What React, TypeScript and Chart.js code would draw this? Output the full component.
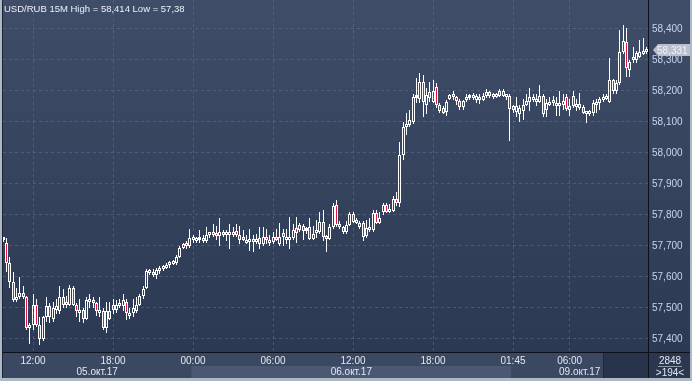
import React, { useEffect, useRef } from 'react';
import { Chart, registerables } from 'chart.js';

Chart.register(...registerables);

// ---- Data (15-minute candles, USD/RUB) ----
const opens = [
  57.718, 57.71, 57.645, 57.584, 57.526, 57.535, 57.548, 57.535, 57.435, 57.445,
  57.51, 57.445, 57.40, 57.47, 57.505, 57.465, 57.495, 57.49, 57.535, 57.51,
  57.51, 57.565, 57.51, 57.485, 57.495, 57.465, 57.52, 57.525, 57.515, 57.485,
  57.49, 57.435, 57.49, 57.495, 57.495, 57.512, 57.505, 57.52, 57.475, 57.485,
  57.49, 57.51, 57.54, 57.565, 57.613, 57.615, 57.605, 57.62, 57.626, 57.63,
  57.638, 57.643, 57.645, 57.665, 57.694, 57.71, 57.70, 57.718, 57.715, 57.718,
  57.726, 57.716, 57.735, 57.735, 57.742, 57.732, 57.745, 57.735, 57.735, 57.737,
  57.748, 57.735, 57.728, 57.71, 57.712, 57.712, 57.714, 57.726, 57.705, 57.728,
  57.71, 57.714, 57.73, 57.705, 57.742, 57.72, 57.72, 57.726, 57.758, 57.752,
  57.765, 57.748, 57.761, 57.723, 57.742, 57.745, 57.777, 57.732, 57.723, 57.761,
  57.832, 57.768, 57.761, 57.745, 57.768, 57.803, 57.774, 57.774, 57.774, 57.732,
  57.761, 57.752, 57.806, 57.774, 57.81, 57.832, 57.81, 57.813, 57.852, 57.839,
  57.994, 58.084, 58.09, 58.10, 58.176, 58.175, 58.229, 58.155, 58.197, 58.165,
  58.213, 58.155, 58.145, 58.132, 58.174, 58.19, 58.18, 58.168, 58.148, 58.17,
  58.176, 58.178, 58.172, 58.182, 58.172, 58.184, 58.196, 58.182, 58.182, 58.20,
  58.184, 58.18, 58.184, 58.15, 58.132, 58.125, 58.135, 58.155, 58.18, 58.17,
  58.165, 58.165, 58.185, 58.14, 58.155, 58.168, 58.15, 58.15, 58.155, 58.18,
  58.14, 58.185, 58.148, 58.158, 58.148, 58.125, 58.125, 58.13, 58.155, 58.16,
  58.17, 58.175, 58.165, 58.235, 58.20, 58.226, 58.326, 58.358, 58.268, 58.30,
  58.30, 58.31, 58.32, 58.326,
];
const highs = [
  57.728, 57.726, 57.665, 57.616, 57.565, 57.60, 57.57, 57.54, 57.45, 57.545,
  57.53, 57.47, 57.475, 57.535, 57.515, 57.52, 57.53, 57.57, 57.56, 57.54,
  57.575, 57.57, 57.515, 57.53, 57.50, 57.535, 57.545, 57.535, 57.52, 57.535,
  57.50, 57.52, 57.52, 57.53, 57.525, 57.53, 57.545, 57.53, 57.50, 57.53,
  57.535, 57.545, 57.57, 57.625, 57.625, 57.625, 57.63, 57.635, 57.64, 57.645,
  57.65, 57.655, 57.67, 57.70, 57.71, 57.715, 57.755, 57.735, 57.73, 57.75,
  57.735, 57.76, 57.742, 57.77, 57.765, 57.79, 57.75, 57.75, 57.77, 57.76,
  57.77, 57.765, 57.75, 57.735, 57.755, 57.735, 57.74, 57.76, 57.76, 57.755,
  57.735, 57.745, 57.755, 57.775, 57.755, 57.755, 57.795, 57.77, 57.795, 57.775,
  57.77, 57.76, 57.79, 57.765, 57.785, 57.81, 57.815, 57.735, 57.77, 57.84,
  57.848, 57.78, 57.765, 57.78, 57.81, 57.81, 57.79, 57.78, 57.78, 57.785,
  57.79, 57.815, 57.815, 57.81, 57.84, 57.84, 57.835, 57.86, 57.874, 58.035,
  58.10, 58.129, 58.14, 58.19, 58.242, 58.258, 58.25, 58.21, 58.23, 58.235,
  58.225, 58.16, 58.15, 58.17, 58.19, 58.20, 58.185, 58.175, 58.17, 58.19,
  58.19, 58.195, 58.19, 58.19, 58.195, 58.205, 58.20, 58.195, 58.195, 58.205,
  58.205, 58.19, 58.19, 58.155, 58.18, 58.155, 58.175, 58.19, 58.21, 58.19,
  58.19, 58.22, 58.19, 58.175, 58.18, 58.185, 58.18, 58.20, 58.19, 58.19,
  58.175, 58.20, 58.175, 58.195, 58.155, 58.135, 58.14, 58.17, 58.175, 58.18,
  58.19, 58.19, 58.306, 58.24, 58.235, 58.397, 58.413, 58.403, 58.30, 58.342,
  58.33, 58.365, 58.37, 58.342,
];
const lows = [
  57.712, 57.616, 57.565, 57.52, 57.52, 57.53, 57.53, 57.43, 57.385, 57.43,
  57.44, 57.38, 57.395, 57.455, 57.45, 57.455, 57.48, 57.48, 57.50, 57.50,
  57.505, 57.505, 57.47, 57.455, 57.45, 57.46, 57.50, 57.50, 57.475, 57.47,
  57.43, 57.42, 57.46, 57.48, 57.485, 57.50, 57.49, 57.46, 57.465, 57.47,
  57.485, 57.505, 57.53, 57.56, 57.605, 57.60, 57.595, 57.61, 57.62, 57.625,
  57.63, 57.64, 57.64, 57.66, 57.69, 57.69, 57.695, 57.71, 57.71, 57.71,
  57.71, 57.71, 57.725, 57.73, 57.72, 57.70, 57.73, 57.715, 57.69, 57.73,
  57.73, 57.705, 57.715, 57.705, 57.685, 57.68, 57.705, 57.69, 57.70, 57.705,
  57.70, 57.705, 57.715, 57.70, 57.70, 57.705, 57.69, 57.72, 57.71, 57.745,
  57.72, 57.74, 57.72, 57.72, 57.725, 57.74, 57.715, 57.68, 57.72, 57.755,
  57.76, 57.755, 57.74, 57.74, 57.765, 57.775, 57.77, 57.755, 57.715, 57.725,
  57.745, 57.745, 57.77, 57.77, 57.80, 57.805, 57.805, 57.81, 57.83, 57.826,
  57.977, 58.058, 58.085, 58.095, 58.16, 58.16, 58.116, 58.125, 58.165, 58.16,
  58.145, 58.13, 58.125, 58.12, 58.17, 58.17, 58.155, 58.14, 58.14, 58.165,
  58.17, 58.17, 58.162, 58.158, 58.168, 58.178, 58.178, 58.175, 58.178, 58.18,
  58.18, 58.17, 58.04, 58.13, 58.115, 58.10, 58.105, 58.15, 58.135, 58.165,
  58.15, 58.16, 58.115, 58.115, 58.15, 58.15, 58.12, 58.12, 58.14, 58.135,
  58.12, 58.145, 58.135, 58.14, 58.125, 58.097, 58.12, 58.12, 58.13, 58.14,
  58.165, 58.17, 58.16, 58.19, 58.19, 58.22, 58.32, 58.245, 58.245, 58.29,
  58.29, 58.305, 58.315, 58.32,
];
const closes = [
  57.722, 57.645, 57.584, 57.526, 57.535, 57.548, 57.535, 57.435, 57.445, 57.51,
  57.445, 57.40, 57.47, 57.505, 57.47, 57.50, 57.505, 57.535, 57.51, 57.515,
  57.565, 57.51, 57.49, 57.495, 57.465, 57.525, 57.525, 57.515, 57.49, 57.495,
  57.435, 57.49, 57.465, 57.51, 57.51, 57.505, 57.525, 57.485, 57.485, 57.50,
  57.51, 57.54, 57.56, 57.62, 57.62, 57.605, 57.622, 57.627, 57.633, 57.64,
  57.645, 57.65, 57.665, 57.694, 57.706, 57.70, 57.726, 57.726, 57.723, 57.723,
  57.716, 57.735, 57.742, 57.742, 57.732, 57.745, 57.737, 57.742, 57.742, 57.745,
  57.735, 57.72, 57.718, 57.715, 57.718, 57.718, 57.72, 57.705, 57.728, 57.718,
  57.716, 57.728, 57.72, 57.728, 57.728, 57.726, 57.726, 57.752, 57.742, 57.768,
  57.748, 57.752, 57.723, 57.739, 57.752, 57.777, 57.729, 57.723, 57.761, 57.829,
  57.768, 57.761, 57.745, 57.768, 57.803, 57.777, 57.78, 57.761, 57.729, 57.758,
  57.752, 57.806, 57.774, 57.79, 57.832, 57.81, 57.816, 57.852, 57.839, 57.994,
  58.084, 58.09, 58.106, 58.181, 58.181, 58.229, 58.165, 58.187, 58.177, 58.20,
  58.155, 58.135, 58.13, 58.165, 58.187, 58.18, 58.168, 58.148, 58.168, 58.178,
  58.182, 58.185, 58.184, 58.172, 58.185, 58.197, 58.184, 58.19, 58.188, 58.184,
  58.20, 58.186, 58.142, 58.139, 58.15, 58.145, 58.155, 58.168, 58.165, 58.18,
  58.175, 58.185, 58.125, 58.16, 58.165, 58.16, 58.16, 58.16, 58.168, 58.142,
  58.152, 58.15, 58.158, 58.145, 58.13, 58.131, 58.132, 58.16, 58.165, 58.175,
  58.18, 58.185, 58.235, 58.20, 58.226, 58.326, 58.362, 58.274, 58.294, 58.306,
  58.323, 58.326, 58.326, 58.331,
];

// ---- Axis / labels ----
const titleText = 'USD/RUB 15M High = 58,414 Low = 57,38';
const timeTickIndex = [9, 33, 57, 81, 105, 129, 153, 170];
const timeTickLabels = ['12:00', '18:00', '00:00', '06:00', '12:00', '18:00', '01:45', '06:00'];
const dayStartIndex = [0, 57, 153];
const dayLabels = ['05.окт.17', '06.окт.17', '09.окт.17'];
const scrollStartIndex = 180;
const totalBars = '2848';
const visibleBars = '>194<';
const yMin = 57.358;
const yMax = 58.4935;
const priceStep = 0.1;

const RED = '#e3173f';
const GRID = 'rgba(100,118,152,0.5)';
const fmt = (v: number) => v.toFixed(3).replace('.', ',');
const AXIS_FONT = '"Liberation Sans Narrow", "Arial Narrow", "Liberation Sans", Arial, sans-serif';

const noPad = (s: any) => {
  s.paddingTop = 0;
  s.paddingBottom = 0;
  s.paddingLeft = 0;
  s.paddingRight = 0;
};

export default function App() {
  const ref = useRef<HTMLCanvasElement>(null);

  useEffect(() => {
    document.body.style.margin = '0';
    const canvas = ref.current;
    if (!canvas) return;
    const idx = opens.map((_, i) => i);
    const bodies = idx.map((i) => ({ x: i, y: [opens[i], closes[i]] }));
    const upper = idx.map((i) => ({ x: i, y: [Math.max(opens[i], closes[i]), highs[i]] }));
    const lower = idx.map((i) => ({ x: i, y: [lows[i], Math.min(opens[i], closes[i])] }));
    const bodyFill = idx.map((i) => (closes[i] < opens[i] ? RED : 'rgba(0,0,0,0)'));

    const backgroundPlugin = {
      id: 'bg',
      beforeDraw(chart: any) {
        const { ctx, width, height, chartArea, scales } = chart;
        const xs = scales.x;
        ctx.save();
        const g = ctx.createLinearGradient(0, 0, 0, chartArea.bottom);
        g.addColorStop(0, '#3f4d68');
        g.addColorStop(1, '#2c3953');
        ctx.fillStyle = g;
        ctx.fillRect(0, 0, width, chartArea.bottom);
        ctx.fillStyle = '#3b4862';
        ctx.fillRect(0, chartArea.bottom, width, height - chartArea.bottom);
        dayStartIndex.forEach((s, k) => {
          const x1 = k === 0 ? chartArea.left : xs.getPixelForValue(s - 0.5);
          const x2 = k === dayStartIndex.length - 1 ? chartArea.right : xs.getPixelForValue(dayStartIndex[k + 1] - 0.5);
          ctx.fillStyle = k % 2 === 1 ? '#4a5873' : '#3b4862';
          ctx.fillRect(x1, 366, x2 - x1, 12);
        });
        const sx = Math.round(xs.getPixelForValue(scrollStartIndex));
        ctx.fillStyle = '#28344b';
        ctx.fillRect(sx, chartArea.bottom, chartArea.right - sx, 378 - chartArea.bottom);
        ctx.fillStyle = '#1f293b';
        ctx.fillRect(sx, chartArea.bottom, 1, 378 - chartArea.bottom);
        ctx.fillStyle = '#2b374f';
        ctx.fillRect(chartArea.right, chartArea.bottom, width - chartArea.right, 378 - chartArea.bottom);
        ctx.restore();
      },
    };

    const snapPlugin = {
      id: 'snap',
      beforeDatasetsDraw(chart: any) {
        chart.data.datasets.forEach((_: any, di: number) => {
          const meta = chart.getDatasetMeta(di);
          meta.data.forEach((el: any) => {
            el.x = Math.floor(el.x) + 0.5;
            el.y = Math.round(el.y);
            el.base = Math.round(el.base);
          });
        });
      },
    };

    const overlayPlugin = {
      id: 'overlay',
      afterDraw(chart: any) {
        const { ctx, width, height, chartArea, scales } = chart;
        const xs = scales.x;
        const ys = scales.y;
        ctx.save();
        ctx.font = '9.5px "Liberation Sans", Arial, sans-serif';
        ctx.fillStyle = '#eef2f8';
        ctx.textBaseline = 'middle';
        ctx.textAlign = 'left';
        ctx.fillText(titleText, 4, 9);

        ctx.font = '10px ' + AXIS_FONT;
        ctx.fillStyle = '#e2e8f1';
        ctx.textAlign = 'center';
        dayStartIndex.forEach((s, k) => {
          const x1 = k === 0 ? chartArea.left : xs.getPixelForValue(s - 0.5);
          const x2 = k === dayStartIndex.length - 1 ? chartArea.right : xs.getPixelForValue(dayStartIndex[k + 1] - 0.5);
          ctx.fillText(dayLabels[k], (x1 + x2) / 2, 372);
        });

        const cx = (chartArea.right + width - 2) / 2;
        ctx.fillText(totalBars, cx + 1, 361);
        ctx.fillText(visibleBars, cx + 1, 373);
        ctx.fillStyle = '#8c98aa';
        ctx.fillRect(cx - 11, 366, 24, 1);

        ctx.fillStyle = '#0d1119';
        ctx.fillRect(0, chartArea.bottom, width, 1);
        ctx.fillRect(chartArea.right, 0, 1, 378);

        const last = closes[closes.length - 1];
        const py = Math.round(ys.getPixelForValue(last));
        const bx = chartArea.right + 5;
        ctx.fillStyle = '#b9c0cb';
        ctx.beginPath();
        ctx.moveTo(bx, py);
        ctx.lineTo(bx + 5, py - 6);
        ctx.lineTo(width - 2, py - 6);
        ctx.lineTo(width - 2, py + 6);
        ctx.lineTo(bx + 5, py + 6);
        ctx.closePath();
        ctx.fill();
        ctx.fillStyle = '#eef4fd';
        ctx.textAlign = 'left';
        ctx.font = '10px ' + AXIS_FONT;
        ctx.fillText(fmt(last), bx + 4, py + 1);

        ctx.fillStyle = '#aeb9c8';
        ctx.fillRect(0, 0, 2, height);
        ctx.fillRect(0, 378, width, 3);
        ctx.fillRect(width - 2, 0, 2, height);
        ctx.fillStyle = '#1c2433';
        ctx.fillRect(2, 0, 1, 378);
        ctx.restore();
      },
    };

    const common = {
      type: 'bar' as const,
      grouped: false,
      borderSkipped: false,
      inflateAmount: 0,
    };

    const chart = new Chart(canvas, {
      type: 'bar',
      data: {
        datasets: [
          { ...common, label: 'upper', data: upper as any, backgroundColor: '#ffffff', borderWidth: 0, barThickness: 1 },
          { ...common, label: 'lower', data: lower as any, backgroundColor: '#ffffff', borderWidth: 0, barThickness: 1 },
          {
            ...common,
            label: 'body',
            data: bodies as any,
            backgroundColor: bodyFill,
            borderColor: '#ffffff',
            borderWidth: 1,
            barThickness: 3,
            minBarLength: 3,
          },
        ],
      },
      options: {
        animation: false,
        responsive: false,
        maintainAspectRatio: false,
        devicePixelRatio: 1,
        layout: { padding: { left: 3, right: 2, top: 0, bottom: 3 } },
        plugins: { legend: { display: false }, tooltip: { enabled: false }, title: { display: false } },
        scales: {
          x: {
            type: 'linear',
            min: 0,
            max: 193.5,
            offset: false,
            afterFit: (s: any) => { s.height = 26; noPad(s); },
            afterBuildTicks: (s: any) => { s.ticks = timeTickIndex.map((v) => ({ value: v })); },
            ticks: {
              autoSkip: false,
              maxRotation: 0,
              padding: 3,
              color: '#e2e8f1',
              font: { family: AXIS_FONT, size: 10 },
              callback: (_v: any, i: number) => timeTickLabels[i],
            },
            grid: { color: GRID, drawTicks: false, offset: false },
            border: { display: false, dash: [3, 3] },
          },
          y: {
            type: 'linear',
            position: 'right',
            min: yMin,
            max: yMax,
            afterFit: (s: any) => { s.width = 42; noPad(s); },
            ticks: {
              stepSize: priceStep,
              includeBounds: false,
              padding: 4,
              color: '#c6d5ee',
              font: { family: AXIS_FONT, size: 10 },
              callback: (v: any) => fmt(Number(v)),
            },
            grid: { color: GRID, drawTicks: false },
            border: { display: false, dash: [3, 3] },
          },
        },
      },
      plugins: [backgroundPlugin, snapPlugin, overlayPlugin],
    });
    return () => chart.destroy();
  }, []);

  return (
    <div style={{ width: 692, height: 381 }}>
      <canvas ref={ref} width={692} height={381} style={{ display: 'block' }} />
    </div>
  );
}
